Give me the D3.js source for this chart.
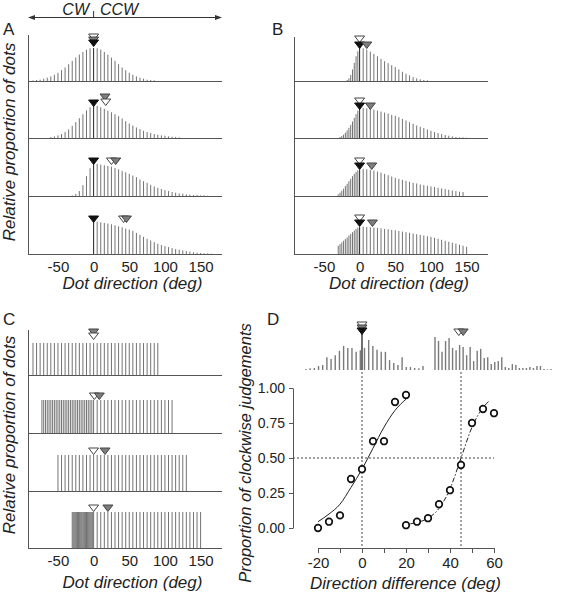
<!DOCTYPE html>
<html><head><meta charset="utf-8">
<script src="https://cdn.jsdelivr.net/npm/d3@7"></script>
<style>body{margin:0;background:#fff} svg{display:block;font-family:"Liberation Sans",Arial,sans-serif}</style>
</head><body><svg id="c" width="580" height="600"></svg>
<script>
// ---------------- DATA ----------------
const dirTicks = [-50, 0, 50, 100, 150];
const diffTicks = [-20, -10, 0, 10, 20, 30, 40, 50, 60];
const diffLabels = [-20, 0, 20, 40, 60];
const propTicks = [0, 0.25, 0.5, 0.75, 1];

// Panel A: relative proportion of dots per direction (deg), segments {start, step, vals}
const A_row1 = [{start: -85, step: 5, vals: [0.02,0.03,0.04,0.07,0.10,0.14,0.19,0.25,0.33,0.41,0.51,0.61,0.71,0.80,0.88,0.95,0.99,1.00,0.99,0.95,0.88,0.80,0.71,0.61,0.51,0.41,0.33,0.25,0.19,0.14,0.10,0.07,0.04,0.03,0.02]}];
const A_row2 = [{start: -60, step: 5, vals: [0.03,0.05,0.08,0.12,0.18,0.26,0.37,0.48,0.60,0.72,0.84,0.93,1.00,0.97,0.93,0.88,0.83,0.78,0.72,0.66,0.59,0.51,0.44,0.38,0.32,0.27,0.22,0.18,0.15,0.12,0.10,0.08,0.07,0.05,0.04,0.03,0.02]}];
const A_row3 = [{start: -30, step: 5, vals: [0.02,0.06,0.15,0.33,0.60,0.84,0.97,0.97,0.95,0.93,0.91,0.89,0.85,0.81,0.76,0.72,0.67,0.62,0.57,0.50,0.45,0.40,0.34,0.29,0.25,0.21,0.18,0.15,0.12,0.10,0.08,0.07,0.05,0.04,0.03,0.03,0.02,0.02,0.01]}];
const A_row4 = [{start: 0, step: 5, vals: [1.00,0.98,0.96,0.94,0.92,0.90,0.87,0.84,0.81,0.77,0.74,0.70,0.64,0.58,0.52,0.46,0.41,0.36,0.31,0.27,0.24,0.21,0.18,0.15,0.13,0.11,0.09,0.07,0.05,0.04,0.03,0.02,0.02,0.01]}];

// Panel B
const B_row1 = [{start: -17.5, step: 2.5, vals: [0.03,0.08,0.18,0.35,0.55,0.75,0.90]},
                {start: 0, step: 5, vals: [1.00,0.99,0.95,0.89,0.82,0.75,0.67,0.60,0.54,0.48,0.42,0.35,0.28,0.22,0.17,0.12,0.08,0.05,0.03,0.02]}];
const B_row2 = [{start: -27.5, step: 2.5, vals: [0.03,0.06,0.10,0.16,0.23,0.31,0.40,0.50,0.61,0.72,0.83]},
                {start: 0, step: 5, vals: [0.91,0.91,0.90,0.88,0.86,0.83,0.80,0.77,0.74,0.70,0.67,0.63,0.58,0.53,0.48,0.43,0.38,0.34,0.30,0.26,0.22,0.18,0.15,0.12,0.09,0.07,0.05,0.03,0.02,0.02,0.01]}];
const B_row3 = [{start: -30, step: 2.5, vals: [0.05,0.10,0.16,0.22,0.30,0.37,0.45,0.52,0.60,0.67,0.73,0.78]},
                {start: 0, step: 5, vals: [0.80,0.82,0.81,0.79,0.77,0.74,0.71,0.67,0.63,0.59,0.55,0.52,0.49,0.46,0.43,0.40,0.38,0.35,0.33,0.31,0.29,0.27,0.25,0.23,0.21,0.19,0.17,0.15,0.13,0.12]}];
const B_row4 = [{start: -30, step: 2.5, vals: [0.25,0.30,0.35,0.40,0.45,0.50,0.56,0.61,0.66,0.71,0.76,0.80]},
                {start: 0, step: 5, vals: [0.82,0.83,0.82,0.81,0.80,0.79,0.78,0.76,0.75,0.73,0.72,0.70,0.68,0.66,0.64,0.62,0.60,0.58,0.56,0.54,0.52,0.49,0.46,0.43,0.40,0.37,0.34,0.31,0.28,0.25,0.22]}];

// Panel C: uniform distributions {from, to, step, h}
const C_row1 = [{from: -85, to: 90, step: 5, h: 0.97}];
const C_row2 = [{from: -72.5, to: -2.5, step: 2.5, h: 1.0}, {from: 0, to: 110, step: 5, h: 1.0}];
const C_row3 = [{from: -50, to: 130, step: 5, h: 1.09}];
const C_row4 = [{from: -30, to: -1.25, step: 1.25, h: 1.09}, {from: 0, to: 150, step: 5, h: 1.09}];

// Markers: direction (deg) and kind, in drawing order
const A_markers = [
  [{dir: 0, kind: 'white'}, {dir: 0, kind: 'gray'}, {dir: 0, kind: 'black'}],
  [{dir: 0, kind: 'black'}, {dir: 16, kind: 'gray'}, {dir: 17, kind: 'white'}],
  [{dir: 0, kind: 'black'}, {dir: 25, kind: 'white'}, {dir: 31, kind: 'gray'}],
  [{dir: 0, kind: 'black'}, {dir: 42, kind: 'white'}, {dir: 46, kind: 'gray'}]];
const B_markers = [
  [{dir: 0, kind: 'white'}, {dir: 0, kind: 'black'}, {dir: 10, kind: 'gray'}],
  [{dir: 0, kind: 'white'}, {dir: 0, kind: 'black'}, {dir: 15, kind: 'gray'}],
  [{dir: 0, kind: 'white'}, {dir: 0, kind: 'black'}, {dir: 17, kind: 'gray'}],
  [{dir: 0, kind: 'white'}, {dir: 0, kind: 'black'}, {dir: 18, kind: 'gray'}]];
const C_markers = [
  [{dir: 0, kind: 'gray'}, {dir: 0, kind: 'white'}],
  [{dir: 1, kind: 'white'}, {dir: 8, kind: 'gray'}],
  [{dir: 0, kind: 'white'}, {dir: 16, kind: 'gray'}],
  [{dir: 0, kind: 'white'}, {dir: 20, kind: 'gray'}]];

// Panel D: psychometric data
const D_diff1 = [-20, -15, -10, -5, 0, 5, 10, 15, 20];
const D_prop1 = [0.00, 0.045, 0.09, 0.35, 0.42, 0.62, 0.62, 0.90, 0.95];
const D_diff2 = [20, 25, 30, 35, 40, 45, 50, 55, 60];
const D_prop2 = [0.02, 0.045, 0.07, 0.17, 0.27, 0.45, 0.75, 0.85, 0.82];
const D_fit1X = [-20, -15, -10, -5, 0, 5, 10, 15, 20];
const D_fit1Y = [0.045, 0.10, 0.17, 0.29, 0.42, 0.57, 0.72, 0.84, 0.92];
const D_fit2X = [22, 25, 30, 35, 40, 45, 50, 55, 58];
const D_fit2Y = [0.03, 0.04, 0.07, 0.14, 0.28, 0.50, 0.72, 0.86, 0.91];
const D_pse = [0, 45];
// small sample histograms above panel D (bin index, relative height)
const D_histL = [0.03,0.05,0.06,0.12,0.15,0.39,0.33,0.45,0.58,0.73,0.67,0.67,0.55,0.60,0.67,0.91,0.73,0.61,0.55,0.55,0.30,0.21,0.15,0.39,0.09,0.09,0.06,0.05,0.12];
const D_histR = [1.0,0.88,0.55,0.88,0.97,0.67,0.60,0.76,0.70,0.45,0.70,0.27,0.58,0.64,0.36,0.39,0.18,0.24,0.27,0.39,0.09,0.06,0.18,0.15,0.06,0.06,0.06,0.09,0.06,0.12,0.12,0.03,0.02,0.03];
const D_markersL = [{dir: 0, kind: 'white'}, {dir: 0, kind: 'gray'}, {dir: 0, kind: 'black'}];
const D_markersR = [{dir: 44, kind: 'white'}, {dir: 46, kind: 'gray'}];

// ---------------- LAYOUT / STYLE ----------------
const BAR = '#737373', AX = '#555', TXT = '#222';
const FONT = '"Liberation Sans", Arial, sans-serif';
const svg = d3.select('#c');
const rowH = d3.scaleLinear([0, 1], [0, 33]);
const rowBaseAB = [81, 138, 196, 254];
const rowBaseC = [375, 433, 491, 548];
const liftA = [[47, 44, 41], [38, 44, 39], [38, 38, 38], [38, 38, 38]];
const liftB = [[45, 39, 39], [40, 35, 35], [38, 33, 33], [39, 34, 34]];
const liftC = [[46, 42], [40, 40], [43, 43], [43, 43]];
const triStyle = {
  black: {fill: '#111', stroke: '#111'},
  gray: {fill: '#7d7d7d', stroke: '#444'},
  white: {fill: '#fff', stroke: '#444'}
};
const hyphen = d => String(d);

function tri(g, x, top, kind) {
  const s = triStyle[kind];
  g.append('path')
    .attr('d', `M${x - 5},${top} L${x + 5},${top} L${x},${top + 6.5} Z`)
    .attr('fill', s.fill).attr('stroke', s.stroke).attr('stroke-width', 1);
}

function segBars(row) {
  return row.flatMap(s => s.vals.map((v, i) => ({dir: s.start + i * s.step, v})));
}
function uniBars(row) {
  return row.flatMap(s => d3.range(s.from, s.to + s.step / 2, s.step).map(d => ({dir: d, v: s.h})));
}

function histPanel(x, xr, bases, rows, markers, lifts, yTop, darkZero) {
  const g = svg.append('g');
  rows.forEach((bars, r) => {
    const y0 = bases[r];
    g.append('g').selectAll('line').data(bars).join('line')
      .attr('x1', d => x(d.dir)).attr('x2', d => x(d.dir))
      .attr('y1', y0).attr('y2', d => y0 - rowH(d.v))
      .attr('stroke', d => (darkZero && d.dir === 0) ? '#222' : BAR)
      .attr('stroke-width', 1);
    g.append('line').attr('x1', xr[0]).attr('x2', xr[1])
      .attr('y1', y0 + 0.5).attr('y2', y0 + 0.5).attr('stroke', AX).attr('stroke-width', 1);
    markers[r].forEach((m, i) => tri(g, x(m.dir), y0 - lifts[r][i], m.kind));
  });
  g.append('line').attr('x1', xr[0] + 0.5).attr('x2', xr[0] + 0.5)
    .attr('y1', yTop).attr('y2', bases[3] + 1).attr('stroke', AX);
  const ax = g.append('g').attr('transform', `translate(0,${bases[3]})`)
    .call(d3.axisBottom(x).tickValues(dirTicks).tickSize(0).tickPadding(7).tickFormat(hyphen));
  ax.select('.domain').remove();
  ax.selectAll('text').attr('font-size', 15).attr('fill', TXT).attr('font-family', FONT);
  return g;
}

// ---------------- PANEL A ----------------
const xA = d3.scaleLinear([-92, 180], [28, 222]);
histPanel(xA, [28, 222], rowBaseAB, [A_row1, A_row2, A_row3, A_row4].map(segBars), A_markers, liftA, 35, true);
// ---------------- PANEL B ----------------
const xB = d3.scaleLinear([-92, 180], [294, 488]);
histPanel(xB, [294, 488], rowBaseAB, [B_row1, B_row2, B_row3, B_row4].map(segBars), B_markers, liftB, 37, true);
// ---------------- PANEL C ----------------
histPanel(xA, [28, 222], rowBaseC, [C_row1, C_row2, C_row3, C_row4].map(uniBars), C_markers, liftC, 330, false);

// CW | CCW arrow
const arr = svg.append('g');
arr.append('line').attr('x1', 30).attr('x2', 220).attr('y1', 17.5).attr('y2', 17.5).attr('stroke', '#333');
arr.append('path').attr('d', 'M28,17.5 L35,15 L35,20 Z').attr('fill', '#333');
arr.append('path').attr('d', 'M222,17.5 L215,15 L215,20 Z').attr('fill', '#333');
arr.append('line').attr('x1', xA(0)).attr('x2', xA(0)).attr('y1', 11).attr('y2', 17.5).attr('stroke', '#333');
arr.append('text').attr('x', 89).attr('y', 15).attr('text-anchor', 'end').attr('font-size', 16)
  .attr('font-style', 'italic').attr('fill', TXT).text('CW');
arr.append('text').attr('x', 100).attr('y', 15).attr('font-size', 16)
  .attr('font-style', 'italic').attr('fill', TXT).text('CCW');

function title(x, y, txt, size, rot) {
  const t = svg.append('text').attr('text-anchor', 'middle').attr('font-size', size)
    .attr('font-style', 'italic').attr('fill', TXT).text(txt);
  if (rot) t.attr('transform', `translate(${x},${y}) rotate(-90)`);
  else t.attr('x', x).attr('y', y);
}
title(132.5, 289, 'Dot direction (deg)', 17);
title(399, 289, 'Dot direction (deg)', 17);
title(132.5, 588, 'Dot direction (deg)', 17);
title(15, 142, 'Relative proportion of dots', 17, true);
title(15, 435, 'Relative proportion of dots', 17, true);
title(251, 453, 'Proportion of clockwise judgements', 16.5, true);
title(405.5, 589, 'Direction difference (deg)', 17);

[['A', 3, 35], ['B', 272, 35], ['C', 3, 325], ['D', 267, 325]].forEach(([l, x, y]) =>
  svg.append('text').attr('x', x).attr('y', y).attr('font-size', 17).attr('fill', TXT).text(l));

// ---------------- PANEL D ----------------
const xD = d3.scaleLinear([-20, 60], [318, 494]);
const yD = d3.scaleLinear([0, 1], [528, 388]);
const gD = svg.append('g');

const histBase = 370;
const xHL = d3.scaleLinear([0, D_histL.length - 1], [306, 423]);
const xHR = d3.scaleLinear([0, D_histR.length - 1], [435, 551]);
gD.append('g').selectAll('line').data(D_histL).join('line')
  .attr('x1', (d, i) => xHL(i)).attr('x2', (d, i) => xHL(i))
  .attr('y1', histBase).attr('y2', d => histBase - rowH(d)).attr('stroke', '#7a7a7a').attr('stroke-width', 1.4);
gD.append('g').selectAll('line').data(D_histR).join('line')
  .attr('x1', (d, i) => xHR(i)).attr('x2', (d, i) => xHR(i))
  .attr('y1', histBase).attr('y2', d => histBase - rowH(d)).attr('stroke', '#7a7a7a').attr('stroke-width', 1.4);
gD.append('line').attr('x1', xD(0)).attr('x2', xD(0)).attr('y1', histBase).attr('y2', 333)
  .attr('stroke', '#222').attr('stroke-width', 1.3);
[48, 45, 42].forEach((lf, i) => tri(gD, xD(D_markersL[i].dir), histBase - lf, D_markersL[i].kind));
[41, 41].forEach((lf, i) => tri(gD, xD(D_markersR[i].dir), histBase - lf, D_markersR[i].kind));

D_pse.forEach(p => gD.append('line').attr('x1', xD(p)).attr('x2', xD(p)).attr('y1', 372).attr('y2', 548)
  .attr('stroke', '#444').attr('stroke-dasharray', '2,2'));
gD.append('line').attr('x1', 293).attr('x2', xD(60)).attr('y1', yD(0.5)).attr('y2', yD(0.5))
  .attr('stroke', '#444').attr('stroke-dasharray', '2,2');

const axX = gD.append('g').attr('transform', 'translate(0,548)')
  .call(d3.axisBottom(xD).tickValues(diffTicks).tickSize(5).tickSizeOuter(0).tickPadding(4)
    .tickFormat(d => diffLabels.includes(d) ? String(d) : ''));
axX.selectAll('path,line').attr('stroke', AX);
axX.selectAll('text').attr('font-size', 15).attr('fill', TXT).attr('font-family', FONT);
const axY = gD.append('g').attr('transform', 'translate(293,0)')
  .call(d3.axisLeft(yD).tickValues(propTicks).tickSize(4).tickSizeOuter(0).tickPadding(4).tickFormat(d3.format('.2f')));
axY.selectAll('path,line').attr('stroke', AX);
axY.selectAll('text').attr('font-size', 14).attr('fill', TXT).attr('font-family', FONT);

const lineGen = d3.line().x(d => xD(d[0])).y(d => yD(d[1])).curve(d3.curveMonotoneX);
gD.append('path').attr('d', lineGen(d3.zip(D_fit1X, D_fit1Y))).attr('fill', 'none')
  .attr('stroke', '#222').attr('stroke-width', 1);
gD.append('path').attr('d', lineGen(d3.zip(D_fit2X, D_fit2Y))).attr('fill', 'none')
  .attr('stroke', '#222').attr('stroke-width', 1).attr('stroke-dasharray', '5,2,1.5,2');

const pts = d3.zip(D_diff1, D_prop1).concat(d3.zip(D_diff2, D_prop2));
gD.append('g').selectAll('circle').data(pts).join('circle')
  .attr('cx', d => xD(d[0])).attr('cy', d => yD(d[1])).attr('r', 3.3)
  .attr('fill', '#fff').attr('stroke', '#111').attr('stroke-width', 1.7);
</script></body></html>
